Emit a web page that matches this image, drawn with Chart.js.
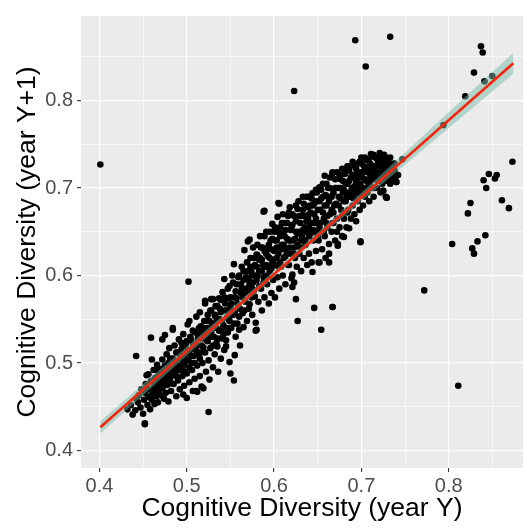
<!DOCTYPE html>
<html>
<head>
<meta charset="utf-8">
<script src="https://cdn.jsdelivr.net/npm/chart.js@4.4.1/dist/chart.umd.min.js"></script>
<style>
  html, body { margin: 0; padding: 0; background: #ffffff; }
  #wrap { width: 527px; height: 529px; }
</style>
</head>
<body>
<div id="wrap"><canvas id="myChart" width="527" height="529"></canvas></div>
<script>
// cognitive diversity, [year Y, year Y+1]
const cloudPoints = [
  [0.432,0.447],[0.436,0.452],[0.438,0.441],[0.441,0.446],[0.442,0.459],[0.442,0.508],[0.444,0.455],[0.445,0.463],[0.447,0.449],[0.448,0.470],
  [0.450,0.442],[0.451,0.458],[0.452,0.431],[0.452,0.466],[0.453,0.476],[0.454,0.486],[0.455,0.452],[0.456,0.487],[0.456,0.461],[0.457,0.470],
  [0.458,0.447],[0.459,0.529],[0.459,0.479],[0.460,0.504],[0.460,0.458],[0.461,0.466],[0.462,0.492],[0.463,0.474],[0.463,0.453],[0.464,0.483],
  [0.465,0.462],[0.466,0.498],[0.467,0.455],[0.467,0.470],[0.468,0.487],[0.469,0.478],[0.470,0.463],[0.471,0.493],[0.472,0.527],[0.472,0.504],
  [0.472,0.471],[0.473,0.482],[0.474,0.459],[0.475,0.532],[0.475,0.497],[0.476,0.466],[0.477,0.488],[0.477,0.510],
  [0.478,0.475],[0.479,0.456],[0.479,0.500],[0.480,0.517],[0.481,0.483],[0.482,0.468],[0.483,0.493],[0.484,0.540],[0.484,0.538],[0.484,0.505],
  [0.485,0.476],[0.486,0.520],[0.487,0.487],[0.488,0.462],[0.488,0.498],[0.489,0.512],[0.490,0.480],[0.491,0.527],[0.492,0.470],[0.492,0.492],
  [0.493,0.505],[0.494,0.516],[0.495,0.485],[0.496,0.533],[0.496,0.464],[0.497,0.474],[0.497,0.498],[0.498,0.510],[0.499,0.522],[0.500,0.460],
  [0.500,0.488],[0.501,0.544],[0.502,0.593],[0.502,0.503],[0.503,0.548],[0.503,0.478],[0.504,0.515],[0.505,0.527],[0.506,0.492],[0.507,0.468],
  [0.507,0.537],[0.508,0.508],[0.509,0.482],[0.510,0.520],[0.511,0.468],[0.511,0.553],[0.512,0.497],[0.512,0.467],[0.513,0.531],[0.514,0.510],
  [0.515,0.558],[0.515,0.485],[0.516,0.542],[0.517,0.473],[0.517,0.520],[0.518,0.500],[0.519,0.471],[0.519,0.533],[0.520,0.548],
  [0.521,0.568],[0.521,0.571],[0.521,0.512],[0.522,0.490],[0.523,0.526],[0.524,0.555],[0.525,0.444],[0.525,0.503],[0.525,0.540],[0.526,0.481],
  [0.527,0.517],[0.528,0.573],[0.528,0.560],[0.529,0.530],[0.530,0.573],[0.530,0.495],[0.531,0.545],[0.532,0.510],[0.533,0.553],[0.534,0.523],
  [0.535,0.519],[0.535,0.565],[0.536,0.490],[0.537,0.537],[0.538,0.550],[0.539,0.572],[0.539,0.505],[0.540,0.528],[0.541,0.581],[0.542,0.543],
  [0.543,0.596],[0.543,0.515],[0.544,0.560],[0.545,0.526],[0.545,0.519],[0.546,0.574],[0.547,0.535],[0.548,0.550],[0.549,0.501],[0.549,0.588],
  [0.550,0.488],[0.550,0.565],[0.551,0.540],[0.552,0.600],[0.553,0.555],[0.554,0.480],[0.554,0.613],[0.555,0.509],[0.555,0.575],[0.556,0.530],
  [0.557,0.590],[0.558,0.545],[0.559,0.565],[0.560,0.600],[0.560,0.538],[0.561,0.520],[0.562,0.580],
  [0.563,0.610],[0.564,0.557],[0.565,0.541],[0.565,0.595],[0.566,0.629],[0.567,0.570],[0.568,0.585],[0.569,0.548],[0.570,0.639],[0.570,0.605],
  [0.571,0.562],[0.572,0.641],[0.572,0.590],[0.573,0.620],[0.574,0.575],[0.575,0.555],[0.575,0.600],[0.576,0.632],[0.577,0.583],[0.578,0.612],
  [0.579,0.546],[0.579,0.537],[0.580,0.624],[0.580,0.538],[0.580,0.595],[0.581,0.623],[0.582,0.570],[0.583,0.605],[0.584,0.645],[0.585,0.585],
  [0.586,0.560],[0.586,0.618],[0.587,0.632],[0.588,0.673],[0.588,0.598],[0.589,0.674],[0.589,0.575],[0.590,0.610],[0.591,0.650],[0.592,0.590],
  [0.593,0.631],[0.593,0.622],[0.594,0.568],[0.595,0.605],[0.596,0.640],[0.597,0.580],[0.598,0.659],[0.598,0.615],[0.599,0.595],[0.600,0.628],
  [0.600,0.650],
  [0.601,0.575],[0.602,0.612],[0.603,0.640],[0.604,0.667],[0.604,0.598],[0.605,0.683],[0.605,0.625],[0.606,0.682],[0.606,0.585],[0.607,0.655],
  [0.608,0.610],[0.609,0.635],[0.610,0.600],[0.610,0.670],[0.611,0.620],[0.612,0.645],[0.613,0.590],[0.614,0.630],[0.615,0.660],[0.616,0.612],
  [0.617,0.612],[0.617,0.640],[0.618,0.678],[0.619,0.625],[0.620,0.597],[0.620,0.655],[0.621,0.587],[0.621,0.601],[0.622,0.640],[0.623,0.592],
  [0.623,0.668],[0.624,0.620],[0.625,0.573],[0.625,0.650],[0.626,0.610],[0.627,0.548],[0.627,0.635],[0.628,0.685],[0.629,0.625],[0.630,0.660],
  [0.631,0.605],[0.632,0.645],[0.633,0.675],[0.634,0.620],[0.635,0.655],[0.636,0.635],[0.637,0.690],[0.638,0.612],[0.639,0.665],[0.640,0.645],
  [0.640,0.625],
  [0.641,0.680],[0.642,0.660],[0.643,0.615],[0.644,0.694],[0.644,0.604],[0.645,0.640],[0.646,0.563],[0.646,0.670],[0.647,0.650],[0.648,0.628],
  [0.649,0.685],[0.650,0.660],[0.651,0.615],[0.651,0.640],[0.652,0.701],[0.652,0.615],[0.653,0.675],[0.654,0.538],[0.654,0.650],[0.655,0.630],
  [0.656,0.690],[0.657,0.665],[0.658,0.714],[0.658,0.645],[0.659,0.620],[0.660,0.680],[0.661,0.655],[0.662,0.700],[0.663,0.636],[0.663,0.625],
  [0.663,0.615],[0.664,0.670],[0.665,0.690],[0.666,0.650],[0.667,0.718],[0.667,0.564],[0.667,0.717],[0.668,0.660],[0.669,0.680],[0.670,0.640],
  [0.671,0.700],[0.672,0.665],[0.673,0.636],[0.673,0.634],[0.674,0.690],[0.675,0.655],[0.676,0.710],[0.677,0.675],[0.678,0.645],[0.679,0.695],
  [0.680,0.644],[0.680,0.665],
  [0.681,0.716],[0.682,0.685],[0.683,0.655],[0.684,0.705],[0.685,0.675],[0.686,0.654],[0.686,0.720],[0.687,0.690],[0.688,0.665],[0.689,0.700],
  [0.690,0.680],[0.691,0.726],[0.691,0.712],[0.692,0.670],[0.693,0.695],[0.694,0.662],[0.695,0.718],[0.696,0.685],[0.697,0.705],[0.698,0.675],
  [0.699,0.638],[0.699,0.692],[0.700,0.728],[0.701,0.712],[0.702,0.680],[0.703,0.700],[0.704,0.690],[0.705,0.722],[0.706,0.708],[0.707,0.695],
  [0.708,0.732],[0.709,0.685],[0.710,0.715],[0.711,0.739],[0.712,0.700],[0.713,0.725],[0.714,0.690],[0.715,0.710],[0.716,0.735],[0.717,0.718],
  [0.718,0.700],[0.719,0.728],[0.720,0.712],[0.721,0.740],[0.722,0.695],[0.723,0.722],[0.724,0.732],[0.725,0.697],[0.725,0.715],[0.726,0.738],
  [0.727,0.725],[0.728,0.690],[0.729,0.689],[0.729,0.712],[0.730,0.730],[0.731,0.720],[0.733,0.735],[0.734,0.710],[0.735,0.725],[0.736,0.712],
  [0.737,0.709],[0.738,0.720],[0.740,0.707],[0.742,0.715]
];

// denser middle of the cloud
const corePoints = [
  [0.462,0.472],[0.465,0.478],[0.468,0.466],[0.470,0.484],[0.473,0.474],[0.475,0.488],[0.478,0.481],[0.480,0.495],[0.482,0.477],[0.485,0.490],
  [0.487,0.501],[0.489,0.484],[0.491,0.497],[0.493,0.510],[0.495,0.492],[0.497,0.520],[0.499,0.503],[0.501,0.515],[0.503,0.495],[0.505,0.508],
  [0.507,0.522],[0.509,0.500],[0.511,0.514],[0.513,0.527],[0.515,0.505],[0.517,0.535],[0.519,0.518],
  [0.522,0.540],[0.524,0.525],[0.526,0.548],[0.528,0.535],[0.530,0.520],[0.532,0.555],[0.534,0.540],[0.536,0.528],[0.538,0.562],[0.540,0.548],
  [0.542,0.533],[0.544,0.568],[0.546,0.552],[0.548,0.540],[0.550,0.575],[0.552,0.560],[0.554,0.545],[0.556,0.582],[0.558,0.568],[0.560,0.553],
  [0.562,0.590],[0.564,0.575],[0.566,0.560],[0.568,0.598],[0.570,0.582],[0.572,0.567],[0.574,0.605],[0.576,0.592],[0.578,0.576],[0.580,0.610],
  [0.581,0.600],[0.583,0.588],[0.584,0.620],[0.586,0.605],[0.588,0.592],[0.589,0.628],[0.591,0.612],[0.592,0.600],[0.594,0.635],[0.595,0.620],
  [0.597,0.608],[0.598,0.642],[0.600,0.612],[0.601,0.640],[0.603,0.620],[0.604,0.650],[0.606,0.632],[0.607,0.615],[0.609,0.648],[0.610,0.630],
  [0.612,0.660],[0.613,0.622],[0.615,0.642],[0.616,0.668],[0.618,0.632],[0.619,0.652],[0.621,0.670],[0.622,0.625],[0.624,0.642],[0.625,0.662],
  [0.627,0.676],[0.628,0.650],[0.630,0.632],[0.631,0.668],[0.633,0.652],[0.634,0.682],[0.636,0.640],[0.637,0.662],[0.639,0.678],[0.640,0.655],
  [0.642,0.672],[0.643,0.688],[0.645,0.652],[0.646,0.682],[0.648,0.665],[0.649,0.695],[0.650,0.645],[0.652,0.685],[0.653,0.660],[0.654,0.698],
  [0.656,0.672],[0.657,0.650],[0.659,0.692],[0.660,0.705],[0.661,0.668],[0.663,0.685],[0.664,0.700],[0.666,0.675],[0.667,0.660],[0.668,0.695],
  [0.670,0.710],[0.671,0.682],[0.672,0.650],[0.674,0.700],[0.675,0.715],[0.676,0.688],[0.678,0.668],[0.679,0.708],[0.680,0.698],[0.682,0.718],
  [0.683,0.690],[0.684,0.672],[0.686,0.708],[0.687,0.725],[0.688,0.695],[0.690,0.715],[0.691,0.688],[0.692,0.702],[0.694,0.722],[0.695,0.698],
  [0.696,0.712],[0.698,0.730],[0.699,0.705],[0.700,0.718],
  [0.702,0.695],[0.703,0.725],[0.704,0.710],[0.706,0.732],[0.707,0.718],[0.708,0.702],[0.710,0.728],[0.711,0.710],[0.712,0.736],[0.714,0.722],
  [0.715,0.700],[0.716,0.715],[0.718,0.733],[0.719,0.708],[0.720,0.725],[0.722,0.712],[0.723,0.736],[0.724,0.705],[0.726,0.720],[0.727,0.732],
  [0.728,0.710],[0.730,0.718],[0.732,0.725],[0.733,0.705],[0.735,0.715],[0.738,0.728]
];

// more points that fill the solid black centre
const fillPoints = [
  [0.455,0.470],[0.458,0.462],[0.461,0.480],[0.464,0.468],[0.467,0.492],[0.469,0.472],[0.471,0.485],[0.474,0.494],[0.476,0.478],[0.479,0.490],
  [0.481,0.505],[0.483,0.486],[0.486,0.498],[0.488,0.512],[0.490,0.492],[0.492,0.505],[0.494,0.523],[0.496,0.500],[0.498,0.490],[0.500,0.525],
  [0.502,0.512],[0.504,0.530],[0.506,0.500],[0.508,0.518],[0.510,0.535],[0.512,0.520],[0.514,0.540],[0.516,0.512],[0.518,0.528],[0.520,0.538],
  [0.523,0.548],[0.525,0.532],[0.527,0.560],[0.529,0.545],[0.531,0.530],[0.533,0.565],[0.535,0.548],[0.537,0.574],[0.539,0.558],[0.541,0.540],
  [0.543,0.575],[0.545,0.560],[0.547,0.585],[0.549,0.548],[0.551,0.568],[0.553,0.592],[0.555,0.558],[0.557,0.574],[0.559,0.598],[0.561,0.562],
  [0.563,0.585],[0.565,0.605],[0.567,0.580],[0.569,0.615],[0.571,0.595],[0.573,0.610],[0.575,0.585],[0.577,0.620],[0.579,0.600],[0.581,0.635],
  [0.583,0.618],[0.585,0.632],[0.587,0.612],[0.589,0.645],[0.591,0.625],[0.593,0.610],[0.595,0.650],[0.597,0.630],[0.599,0.618],[0.601,0.655],
  [0.603,0.632],[0.605,0.610],[0.607,0.645],[0.609,0.660],[0.611,0.635],[0.613,0.652],[0.615,0.625],[0.617,0.672],[0.619,0.640],[0.621,0.658],
  [0.623,0.632],[0.625,0.680],[0.627,0.648],[0.629,0.668],[0.631,0.640],[0.633,0.690],[0.635,0.668],[0.637,0.650],[0.639,0.690],[0.640,0.670],
  [0.642,0.648],[0.644,0.680],[0.646,0.660],[0.648,0.698],[0.650,0.675],[0.652,0.655],[0.654,0.688],[0.656,0.705],[0.658,0.680],[0.660,0.660],
  [0.662,0.690],[0.664,0.712],[0.666,0.690],[0.668,0.672],[0.670,0.700],[0.672,0.718],[0.674,0.680],[0.676,0.700],[0.678,0.722],[0.680,0.685],
  [0.682,0.705],[0.684,0.725],[0.686,0.695],[0.688,0.712],[0.690,0.730],[0.692,0.690],[0.694,0.708],[0.696,0.728],[0.698,0.700],[0.700,0.735],
  [0.702,0.718],[0.704,0.735],[0.706,0.700],[0.708,0.722],[0.710,0.705],[0.712,0.720],[0.714,0.738],[0.716,0.725],[0.718,0.712],[0.720,0.735],
  [0.722,0.725],[0.724,0.718],[0.726,0.728],[0.728,0.735],[0.730,0.708],[0.732,0.715],[0.734,0.728],[0.736,0.722],[0.739,0.712]
];

// points far from the cloud
const outlierPoints = [
  [0.401,0.727],[0.452,0.430],[0.623,0.811],[0.693,0.869],[0.733,0.873],[0.705,0.839],[0.837,0.862],[0.839,0.855],[0.829,0.832],
  [0.841,0.822],[0.850,0.828],[0.819,0.805],[0.794,0.772],[0.747,0.733],[0.873,0.730],[0.846,0.716],[0.855,0.715],[0.853,0.711],
  [0.840,0.709],[0.843,0.700],[0.825,0.683],[0.822,0.671],[0.861,0.686],[0.869,0.677],[0.842,0.646],[0.833,0.639],[0.827,0.631],
  [0.829,0.625],[0.804,0.636],[0.772,0.583],[0.811,0.474],[0.699,0.639],[0.667,0.564],[0.691,0.726],[0.729,0.689],[0.740,0.707],
  [0.736,0.712],[0.725,0.697]
];

// linear fit and its confidence band
const fitX = [0.401, 0.874];
const fitY = [0.4265, 0.8427];
const bandX = [0.401, 0.45, 0.5, 0.55, 0.6, 0.65, 0.7, 0.75, 0.8, 0.874];
const bandHigh = [0.4335, 0.4761, 0.5186, 0.5616, 0.6051, 0.6491, 0.6946, 0.7406, 0.7866, 0.8547];
const bandLow = [0.4195, 0.4631, 0.5086, 0.5536, 0.5981, 0.6421, 0.6846, 0.7266, 0.7686, 0.8307];

// axis ticks
const majorTicks = [0.4, 0.5, 0.6, 0.7, 0.8];
const minorTicks = [0.45, 0.55, 0.65, 0.75, 0.85];

function toXY(list) {
  return list.map(function (p) { return { x: p[0], y: p[1] }; });
}
function isMajor(v) {
  return majorTicks.some(function (m) { return Math.abs(m - v) < 1e-6; });
}
function setTicks(scale) {
  scale.ticks = majorTicks.concat(minorTicks).sort().map(function (v) { return { value: v }; });
}

// grey ggplot panel behind the plot
const panelBg = {
  id: 'panelBg',
  beforeDraw(chart) {
    const a = chart.chartArea;
    const c = chart.ctx;
    c.save();
    c.fillStyle = '#EBEBEB';
    c.fillRect(a.left, a.top, a.right - a.left, a.bottom - a.top);
    c.restore();
  }
};

const gridOpts = {
  color: '#FFFFFF',
  lineWidth: function (ctx) { return isMajor(ctx.tick.value) ? 1.2 : 0.6; },
  tickColor: function (ctx) { return isMajor(ctx.tick.value) ? '#333333' : 'rgba(0,0,0,0)'; },
  tickLength: 4,
  tickWidth: 1.1,
  drawTicks: true
};
const tickFont = { family: 'Liberation Sans, Arial, sans-serif', size: 20 };
const titleFont = { family: 'Liberation Sans, Arial, sans-serif', size: 26.5 };

Chart.defaults.animation = false;

var ctx = document.getElementById('myChart').getContext('2d');
var myChart = new Chart(ctx, {
  type: 'scatter',
  data: {
    datasets: [
      {
        label: 'fit',
        data: fitX.map(function (x, i) { return { x: x, y: fitY[i] }; }),
        showLine: true,
        borderColor: 'rgb(246,38,14)',
        borderWidth: 2.6,
        pointRadius: 0,
        order: 0
      },
      {
        label: 'band high',
        data: bandX.map(function (x, i) { return { x: x, y: bandHigh[i] }; }),
        showLine: true,
        borderWidth: 0,
        borderColor: 'rgba(0,0,0,0)',
        pointRadius: 0,
        fill: '+1',
        backgroundColor: 'rgba(120,188,168,0.5)',
        order: 1
      },
      {
        label: 'band low',
        data: bandX.map(function (x, i) { return { x: x, y: bandLow[i] }; }),
        showLine: true,
        borderWidth: 0,
        borderColor: 'rgba(0,0,0,0)',
        pointRadius: 0,
        order: 1
      },
      {
        label: 'points',
        data: toXY(cloudPoints.concat(corePoints, fillPoints, outlierPoints)),
        pointRadius: 3.3,
        pointBorderWidth: 0,
        backgroundColor: '#000000',
        borderColor: '#000000',
        order: 2
      }
    ]
  },
  options: {
    responsive: false,
    animation: false,
    layout: { padding: { top: 4, right: 3, left: 0, bottom: 0 } },
    plugins: { legend: { display: false }, tooltip: { enabled: false } },
    scales: {
      x: {
        type: 'linear',
        min: 0.37886,
        max: 0.88514,
        afterBuildTicks: setTicks,
        afterFit: function (s) { s.height = 61; },
        border: { display: false },
        grid: gridOpts,
        ticks: {
          autoSkip: false,
          maxRotation: 0,
          padding: 2,
          color: '#4D4D4D',
          font: tickFont,
          callback: function (v) { return isMajor(v) ? v.toFixed(1) : ''; }
        },
        title: {
          display: true,
          text: 'Cognitive Diversity (year Y)',
          color: '#000000',
          font: titleFont,
          padding: { top: 0, bottom: 4 }
        }
      },
      y: {
        type: 'linear',
        min: 0.37996,
        max: 0.8967,
        afterBuildTicks: setTicks,
        afterFit: function (s) { s.width = 81; },
        border: { display: false },
        grid: gridOpts,
        ticks: {
          autoSkip: false,
          padding: 4,
          color: '#4D4D4D',
          font: tickFont,
          callback: function (v) { return isMajor(v) ? v.toFixed(1) : ''; }
        },
        title: {
          display: true,
          text: 'Cognitive Diversity (year Y+1)',
          color: '#000000',
          font: titleFont,
          padding: { top: 12, bottom: 0 }
        }
      }
    }
  },
  plugins: [panelBg]
});
</script>
</body>
</html>
